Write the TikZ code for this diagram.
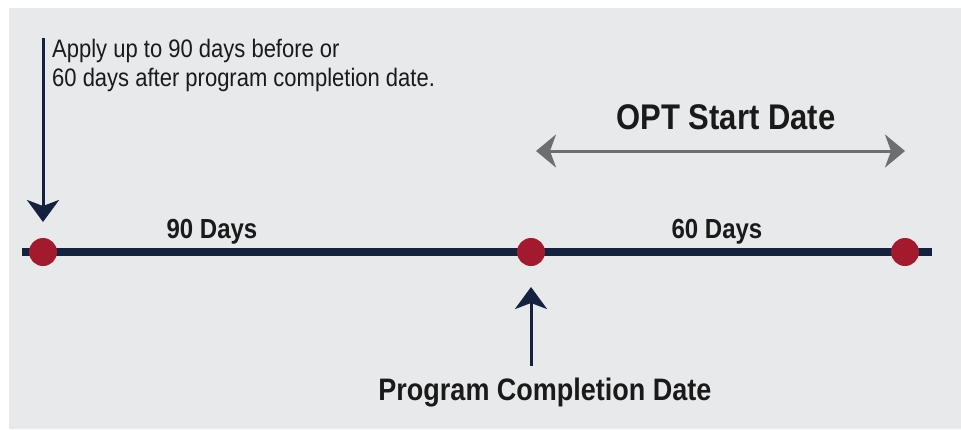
\documentclass[tikz,border=0pt]{standalone}
\usepackage{fontspec}
\setmainfont{Liberation Sans}
\usetikzlibrary{arrows.meta}
\definecolor{navy}{HTML}{14213F}
\definecolor{dotred}{HTML}{A3192E}
\definecolor{bggrey}{HTML}{E8E9EB}
\definecolor{arrowgrey}{HTML}{6D6E70}
\definecolor{ink}{HTML}{1A1A1A}
\tikzset{
  tall/.style={yscale=1.15,transform shape,inner sep=0pt,text=ink},
  dot/.style={circle,fill=dotred,minimum size=28pt,inner sep=0pt},
  pointer/.style={navy,line width=3pt,-{Stealth[length=22pt,width=32pt,inset=6pt]}}
}
\begin{document}
\begin{tikzpicture}[x=1pt,y=1pt]
  \useasboundingbox (0,0) rectangle (961,-429);
  \fill[white] (0,0) rectangle (961,-429);
  \fill[bggrey] (9,-8) rectangle (961,-429);
  % timeline
  \coordinate (lineL) at (22,-252);
  \coordinate (lineR) at (932,-252);
  \draw[navy,line width=8pt] (lineL) -- (lineR);
  \node[dot] (apply) at (43,-252) {};
  \node[dot] (complete) at (531,-252) {};
  \node[dot] (end) at (905,-252) {};
  % labels
  \node[tall,anchor=base west,align=left,font=\fontsize{22}{25.2}\selectfont]
    (note) at (52,-86) {Apply up to 90 days before or\\60 days after program completion date.};
  \node[tall,anchor=base,font=\bfseries\fontsize{24}{28}\selectfont] (before) at (212,-238) {90 Days};
  \node[tall,anchor=base,font=\bfseries\fontsize{24}{28}\selectfont] (after) at (717,-238) {60 Days};
  \node[tall,anchor=base,font=\bfseries\fontsize{31}{36}\selectfont] (opt) at (726,-129) {OPT Start Date};
  \node[tall,anchor=base,font=\bfseries\fontsize{27}{32}\selectfont] (pcd) at (545,-400) {Program Completion Date};
  % arrows
  \coordinate (applytop) at (43,-38);
  \coordinate (applytip) at (43,-222);
  \coordinate (pcdfoot) at (531,-366);
  \coordinate (pcdtip) at (531,-287);
  \coordinate (optL) at (536,-151);
  \coordinate (optR) at (905,-151);
  \draw[pointer] (applytop) -- (applytip);
  \draw[pointer] (pcdfoot) -- (pcdtip);
  \draw[arrowgrey,line width=3pt,{Stealth[length=20pt,width=33pt,inset=6pt]}-{Stealth[length=20pt,width=33pt,inset=6pt]}] (optL) -- (optR);
\end{tikzpicture}
\end{document}
